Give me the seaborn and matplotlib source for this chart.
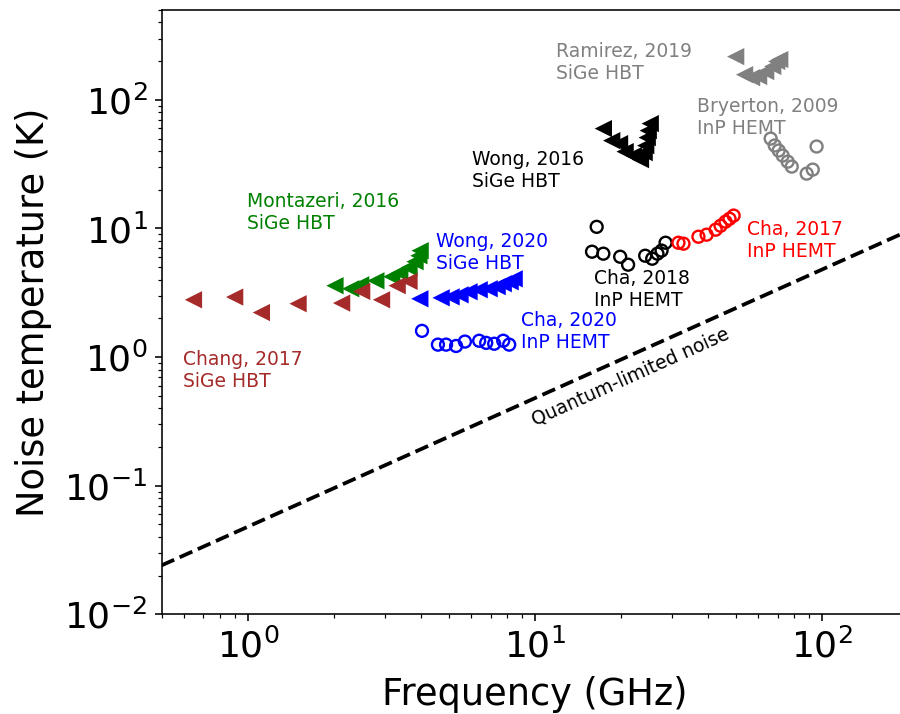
import numpy as np
import pandas as pd
import matplotlib
matplotlib.use("Agg")
import matplotlib.pyplot as plt
import seaborn as sns

# ---- measured amplifier noise data (frequency in GHz, noise temperature in K) ----
chang2017_f = [0.646, 0.899, 1.114, 1.495, 2.12, 2.49, 2.92, 3.31, 3.64]
chang2017_t = [2.79, 2.93, 2.22, 2.60, 2.63, 3.24, 2.79, 3.59, 3.88]

montazeri2016_f = [2.01, 2.28, 2.47, 2.79, 3.17, 3.38, 3.64, 3.82, 3.94, 3.98]
montazeri2016_t = [3.59, 3.40, 3.65, 3.92, 4.22, 4.53, 4.96, 5.52, 6.14, 6.72]

wong2020_f = [3.97, 4.71, 5.10, 5.48, 5.89, 6.39, 6.92, 7.38, 7.75, 8.19, 8.46]
wong2020_t = [2.84, 2.89, 2.94, 3.05, 3.22, 3.34, 3.40, 3.53, 3.72, 3.85, 4.06]

cha2020_f = [4.04, 4.59, 4.90, 5.31, 5.70, 6.39, 6.76, 7.21, 7.75, 8.13]
cha2020_t = [1.60, 1.25, 1.25, 1.22, 1.32, 1.34, 1.29, 1.27, 1.34, 1.25]

cha2018_f = [16.4, 15.8, 17.3, 19.8, 21.1, 24.2, 25.6, 26.7, 27.6, 28.5]
cha2018_t = [10.3, 6.60, 6.37, 6.03, 5.23, 6.14, 5.82, 6.37, 6.73, 7.75]

cha2017_f = [31.6, 32.9, 37.1, 39.6, 42.6, 44.3, 46.1, 47.6, 49.2]
cha2017_t = [7.75, 7.62, 8.63, 8.95, 9.79, 10.5, 11.3, 11.9, 12.6]

wong2016_f = [17.3, 18.5, 19.7, 20.6, 22.0, 23.3, 24.0, 24.3, 24.6, 24.8, 25.2]
wong2016_t = [59.8, 48.2, 45.7, 39.6, 36.9, 34.3, 38.9, 44.1, 50.9, 57.7, 65.4]

ramirez2019_f = [50.0, 53.7, 56.8, 60.1, 63.6, 67.3, 69.5, 71.2]
ramirez2019_t = [217, 157, 149, 152, 166, 182, 199, 206]

bryerton2009_f = [66.2, 68.4, 70.6, 72.9, 75.9, 78.4, 88.4, 92.8, 95.7]
bryerton2009_t = [50.0, 44.2, 40.4, 36.9, 33.1, 30.3, 26.7, 28.7, 43.4]

# quantum limit T = h f / k_B over the plotted band
ql_freq_ghz = [0.5, 200.0]
h_planck = 6.62607015e-34
k_boltz = 1.380649e-23

plt.rcParams["font.family"] = ["DejaVu Sans"]

fig = plt.figure(figsize=(9.0, 7.14), dpi=100)
ax = fig.add_axes([161.5 / 900, (714 - 614.3) / 714, 747 / 900, 604.3 / 714])

TRI = dict(marker="<", s=155, linewidth=0)
CIRC = dict(marker="o", s=74, facecolors="none", linewidth=1.7)


def tri(f, t, c):
    df = pd.DataFrame({"f": f, "t": t})
    sns.scatterplot(data=df, x="f", y="t", color=c, edgecolor="none", ax=ax,
                    legend=False, **TRI)


def circ(f, t, c):
    df = pd.DataFrame({"f": f, "t": t})
    sns.scatterplot(data=df, x="f", y="t", edgecolor=c, ax=ax,
                    legend=False, **CIRC)


tri(montazeri2016_f, montazeri2016_t, "green")
tri(chang2017_f, chang2017_t, "brown")
tri(wong2020_f, wong2020_t, "blue")
circ(cha2020_f, cha2020_t, "blue")
circ(cha2018_f, cha2018_t, "black")
circ(cha2017_f, cha2017_t, "red")
tri(wong2016_f, wong2016_t, "black")
tri(ramirez2019_f, ramirez2019_t, "gray")
circ(bryerton2009_f, bryerton2009_t, "gray")

ql = pd.DataFrame({"f": ql_freq_ghz})
ql["t"] = h_planck * ql["f"] * 1e9 / k_boltz
sns.lineplot(data=ql, x="f", y="t", color="black", linestyle="--",
             linewidth=2.7, ax=ax, legend=False)

ax.set_xscale("log")
ax.set_yscale("log")
ax.set_xlim(0.5, 200)
ax.set_ylim(0.01, 500)

labels = [
    ("Montazeri, 2016\nSiGe HBT", 0.990, 19.2, "green"),
    ("Chang, 2017\nSiGe HBT", 0.595, 1.126, "brown"),
    ("Wong, 2020\nSiGe HBT", 4.52, 9.39, "blue"),
    ("Cha, 2020\nInP HEMT", 8.93, 2.28, "blue"),
    ("Cha, 2018\nInP HEMT", 16.0, 4.81, "black"),
    ("Cha, 2017\nInP HEMT", 54.7, 11.56, "red"),
    ("Wong, 2016\nSiGe HBT", 6.04, 40.5, "black"),
    ("Ramirez, 2019\nSiGe HBT", 11.81, 282.7, "gray"),
    ("Bryerton, 2009\nInP HEMT", 36.7, 105.5, "gray"),
]
for txt, x, y, c in labels:
    ax.text(x, y, txt, color=c, fontsize=13.5, ha="left", va="top")

ax.text(21.5, 0.706, "Quantum-limited noise", fontsize=13.5, color="black",
        rotation=24.2, rotation_mode="anchor", ha="center", va="center")

ax.set_xlabel("Frequency (GHz)", fontsize=26.5, labelpad=8.5)
ax.set_ylabel("Noise temperature (K)", fontsize=26.5)
ax.yaxis.set_label_coords(-0.147, 0.5)

for sp in ax.spines.values():
    sp.set_linewidth(1.15)
ax.tick_params(which="major", length=5, width=1.15, labelsize=26, pad=5)
ax.tick_params(which="minor", length=2.9, width=0.86)

fig.savefig("out.png", dpi=100)
